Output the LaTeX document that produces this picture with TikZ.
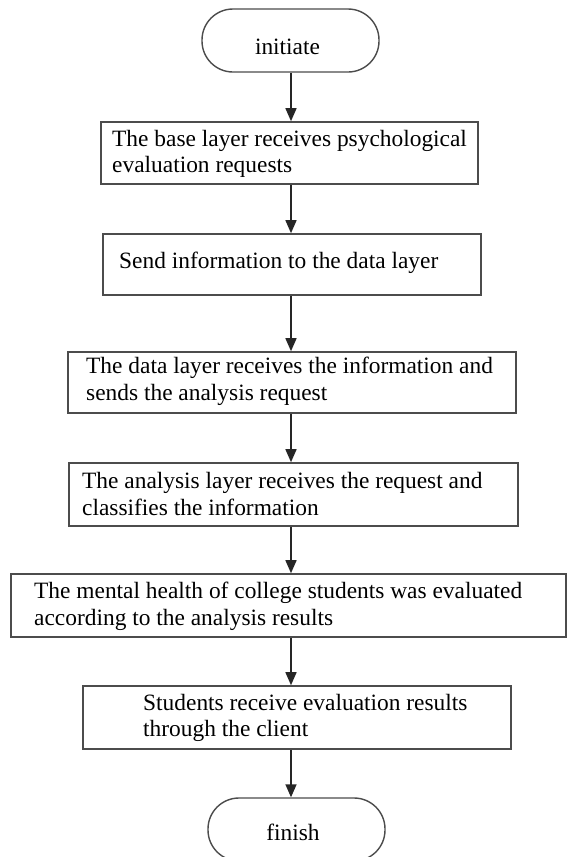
\documentclass[tikz,border=0pt]{standalone}
\usepackage{fontspec}
\setmainfont{Liberation Serif}
\usetikzlibrary{arrows.meta}

\tikzset{
  stepbox/.style={draw=black!70, line width=1.6pt, fill=white, rectangle,
    inner sep=0pt},
  termbox/.style={draw=black!70, line width=1.4pt, fill=white, rectangle,
    rounded corners=31pt, inner sep=0pt, minimum width=177pt, minimum height=63pt},
  label/.style={inner sep=0pt, align=left, anchor=base west,
    font=\fontsize{23.4}{26.5}\selectfont},
  flow/.style={draw=black!85, line width=1.5pt,
    -{Triangle[length=13pt,width=11pt]}}
}

\begin{document}
\begin{tikzpicture}[x=1pt,y=-1pt]
\useasboundingbox (0,0) rectangle (567,857);
\clip (0,0) rectangle (567,857);

% terminals
\node[termbox] (start) at (290.5,40.5) {};
\node[label, anchor=base] (starttext) at (287.5,54) {initiate};
\node[termbox] (stop) at (296.5,829.5) {};
\node[label, anchor=base] (stoptext) at (293,840) {finish};

% process boxes
\node[stepbox, minimum width=377pt, minimum height=62pt] (b1) at (289.5,153) {};
\node[stepbox, minimum width=378pt, minimum height=61pt] (b2) at (292,264.5) {};
\node[stepbox, minimum width=448pt, minimum height=61pt] (b3) at (292,382.5) {};
\node[stepbox, minimum width=449pt, minimum height=63pt] (b4) at (293.5,494.5) {};
\node[stepbox, minimum width=555pt, minimum height=63pt] (b5) at (288.5,605.5) {};
\node[stepbox, minimum width=428pt, minimum height=63pt] (b6) at (297,717.5) {};

% box texts (first-line baselines)
\node[label] (t1a) at (112,146) {The base layer receives psychological};
\node[label] (t1b) at (112,172) {evaluation requests};
\node[label] (t2) at (119,268) {Send information to the data layer};
\node[label] (t3a) at (86,373) {The data layer receives the information and};
\node[label] (t3b) at (86,400) {sends the analysis request};
\node[label] (t4a) at (82,488) {The analysis layer receives the request and};
\node[label] (t4b) at (82,515) {classifies the information};
\node[label] (t5a) at (34,598) {The mental health of college students was evaluated};
\node[label] (t5b) at (34,625) {according to the analysis results};
\node[label] (t6a) at (143,710) {Students receive evaluation results};
\node[label] (t6b) at (143,736) {through the client};

% vertical flow axis
\coordinate (axis) at (291,0);
\draw[flow] (start.south -| axis) -- (b1.north -| axis);
\draw[flow] (b1.south -| axis) -- (b2.north -| axis);
\draw[flow] (b2.south -| axis) -- (b3.north -| axis);
\draw[flow] (b3.south -| axis) -- (b4.north -| axis);
\draw[flow] (b4.south -| axis) -- (b5.north -| axis);
\draw[flow] (b5.south -| axis) -- (b6.north -| axis);
\draw[flow] (b6.south -| axis) -- (stop.north -| axis);
\end{tikzpicture}
\end{document}
